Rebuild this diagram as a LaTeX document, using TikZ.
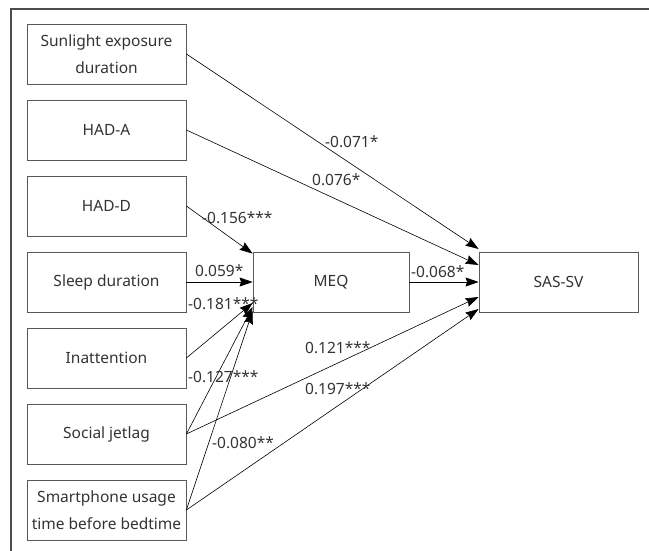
\documentclass[tikz,border=0pt]{standalone}
\usepackage{fontspec}
\setmainfont{Noto Sans}
\usetikzlibrary{arrows.meta, calc, positioning}
\definecolor{box-gray}{gray}{0.35}
\definecolor{text-gray}{gray}{0.2}

\begin{document}
\begin{tikzpicture}[x=1pt, y=-1pt,
    var/.style={draw=box-gray, line width=0.8pt, minimum width=159pt, minimum height=60pt,
      align=center, text=text-gray, inner sep=0pt, font=\fontsize{15.5}{27}\selectfont},
    link/.style={-{Stealth[length=13pt, width=9pt, inset=1.5pt]}, line width=0.6pt},
    coef/.style={anchor=west, inner sep=0pt, text=text-gray, font=\fontsize{15.5}{18}\selectfont}]
					\useasboundingbox (0,0) rectangle (649,551);
					\draw[line width=1.5pt, black!70] (11,551) -- (11,9) -- (649,9);
					
					% predictors
					\node[var] at (106.5,54) (sun) {Sunlight exposure\\duration};
					\node[var] at (106.5,130) (hada) {HAD-A};
					\node[var] at (106.5,206) (hadd) {HAD-D};
					\node[var] at (106.5,282) (sleep) {Sleep duration};
					\node[var] at (106.5,358) (inatt) {Inattention};
					\node[var] at (106.5,434) (jetlag) {Social jetlag};
					\node[var] at (106.5,510) (phone) {Smartphone usage\\time before bedtime};
					
					\node[var, minimum width=156pt] at (331,282) (meq) {MEQ};
					\node[var] at (558.5,282) (sas) {SAS-SV};
					
					\coordinate (sas1) at ($(sas.west)+(0,-33)$);
					\coordinate (sas2) at ($(sas.west)+(0,-17)$);
					\coordinate (sas4) at ($(sas.west)+(0,15)$);
					\coordinate (sas5) at ($(sas.west)+(0,27)$);
					\coordinate (meq1) at ($(meq.north west)+(0,2)$);
					\coordinate (meq3) at ($(meq.west)+(0,21)$);
					\coordinate (meq4) at ($(meq.west)+(0,25)$);
					\coordinate (meq5) at ($(meq.west)+(0,29)$);
					
					% direct paths
					\draw[link] (sun.east) -- (sas1);
					\draw[link] (hada.east) -- (sas2);
					\draw[link] (meq) -- (sas);
					\draw[link] (jetlag.east) -- (sas4);
					\draw[link] (phone.east) -- (sas5);
					
					% paths into MEQ
					\draw[link] (hadd.east) -- (meq1);
					\draw[link] (sleep) -- (meq);
					\draw[link] (inatt.east) -- (meq3);
					\draw[link] (jetlag.east) -- (meq4);
					\draw[link] (phone.east) -- (meq5);
					
					% coefficients
					\node[coef] at (325,142) (c-sun) {-0.071*};
					\node[coef] at (312,180) (c-hada) {0.076*};
					\node[coef] at (202,218) (c-hadd) {-0.156***};
					\node[coef] at (195,271) (c-sleep) {0.059*};
					\node[coef] at (188,304) (c-inatt) {-0.181***};
					\node[coef] at (188,377) (c-jetlag) {-0.127***};
					\node[coef] at (212,443) (c-phone) {-0.080**};
					\node[coef] at (411,272) (c-meq) {-0.068*};
					\node[coef] at (305,348) (c-jetsas) {0.121***};
					\node[coef] at (305,389) (c-phonesas) {0.197***};
				\end{tikzpicture}
\end{document}
